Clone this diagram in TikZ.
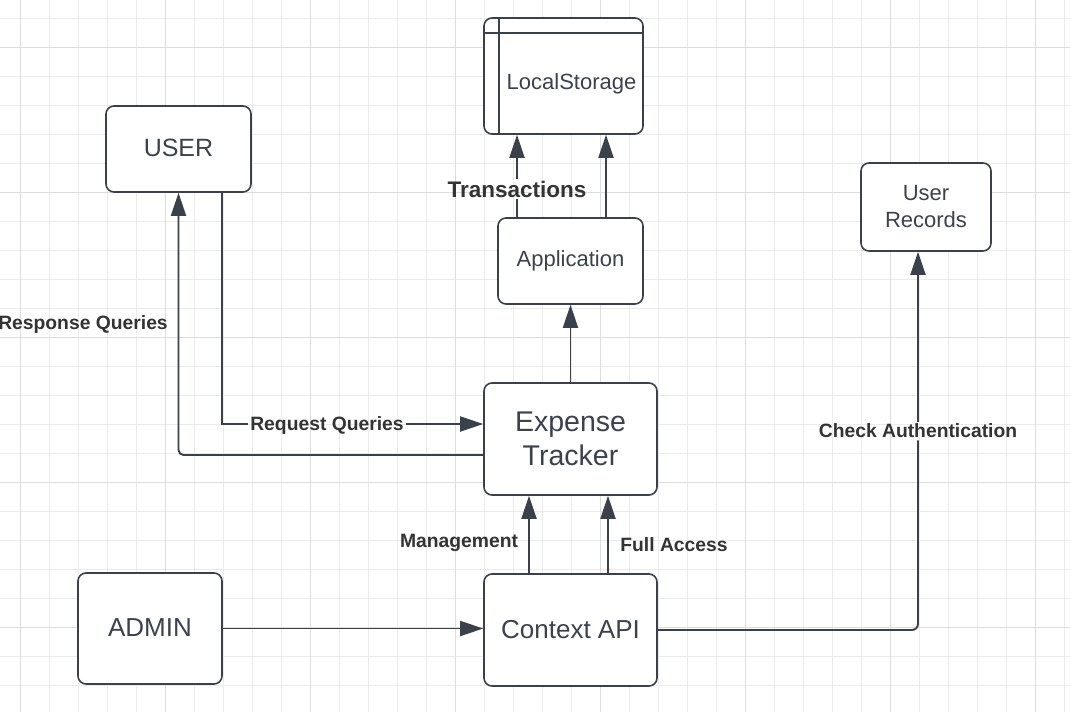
\documentclass[tikz,border=0pt]{standalone}
\usepackage{fontspec}
\setmainfont{Liberation Sans}
\usetikzlibrary{arrows.meta}
\definecolor{linec}{HTML}{3A414A}
\definecolor{textc}{HTML}{3B424D}
\definecolor{labc}{HTML}{333333}
\definecolor{gridminor}{HTML}{EBEBEB}
\definecolor{gridmajor}{HTML}{DDDDDD}
\tikzset{
  box/.style={draw=linec, line width=1.6pt, fill=white, rounded corners=8pt, text=textc, align=center, inner sep=0pt},
  conn/.style={draw=linec, line width=1.9pt},
  arr/.style={conn, -{Triangle[length=23pt,width=15pt]}},
  lab/.style={text=labc, font=\bfseries\fontsize{19.3}{23}\selectfont, inner sep=2pt},
}
\begin{document}
\begin{tikzpicture}[x=1pt,y=-1pt]
\useasboundingbox (0,0) rectangle (1070,712);
% grid
\foreach \i in {0,...,36} {
  \pgfmathsetmacro{\xx}{20.6+29*\i}
  \draw[gridminor, line width=1pt] (\xx,0) -- (\xx,712);
}
\foreach \i in {0,...,24} {
  \pgfmathsetmacro{\yy}{18.3+29*\i}
  \draw[gridminor, line width=1pt] (0,\yy) -- (1070,\yy);
}
\foreach \i in {0,...,7} {
  \pgfmathsetmacro{\xx}{20.6+145*\i}
  \draw[gridmajor, line width=1pt] (\xx,0) -- (\xx,712);
}
\foreach \i in {0,...,4} {
  \pgfmathsetmacro{\yy}{47.3+145*\i}
  \draw[gridmajor, line width=1pt] (0,\yy) -- (1070,\yy);
}

% nodes
\node[box, minimum width=159pt, minimum height=116pt] (LS) at (563.5,76) {};
\draw[linec, line width=1.6pt] ([xshift=16pt]LS.north west) -- ([xshift=16pt]LS.south west);
\draw[linec, line width=1.6pt] ([yshift=-16pt]LS.north west) -- ([yshift=-16pt]LS.north east);
\node[text=textc, font=\fontsize{22}{26}\selectfont, inner sep=0pt] (LSt) at (571.5,84) {LocalStorage};

\node[box, minimum width=145pt, minimum height=86pt, font=\fontsize{25}{30}\selectfont] (USER) at (178.5,149) {\raisebox{2pt}{USER}};
\node[box, minimum width=145pt, minimum height=86pt, font=\fontsize{22}{26}\selectfont] (APP) at (570.5,261) {Application};
\node[box, minimum width=130pt, minimum height=88pt, font=\fontsize{22}{27}\selectfont] (UR) at (926,207) {User\\Records};
\node[box, minimum width=173pt, minimum height=112pt, font=\fontsize{28.5}{34}\selectfont] (ET) at (570.5,439) {Expense\\Tracker};
\node[box, minimum width=144pt, minimum height=111pt, font=\fontsize{26}{30}\selectfont] (ADMIN) at (150,628.5) {\raisebox{1pt}{ADMIN}};
\node[box, minimum width=173pt, minimum height=112pt, font=\fontsize{26}{30}\selectfont] (CAPI) at (570.5,630) {Context API};

% labels
\node[lab, font=\bfseries\fontsize{22.5}{26}\selectfont] (ltrans) at (517,189) {Transactions};
\node[lab] (lreq) at (327,426) {Request Queries};
\node[lab] (lresp) at (83,325) {Response Queries};
\node[lab] (lman) at (459,543) {Management};
\node[lab] (lfull) at (674,545) {Full Access};
\node[lab] (lauth) at (918,431) {Check Authentication};

% connectors
\draw[conn] (ltrans.south) -- (ltrans.south |- APP.north);
\draw[arr] (ltrans.north) -- (ltrans.north |- LS.south);
\draw[arr] ([xshift=35.5pt]APP.north) -- ([xshift=35.5pt]APP.north |- LS.south);
\draw[arr] (ET.north) -- (APP.south);
\draw[conn] ([xshift=43.5pt]USER.south) |- ([yshift=2pt]lreq.west);
\draw[arr] ([yshift=2pt]lreq.east) -- ([yshift=2pt]lreq.east -| ET.west);
\draw[arr, rounded corners=5pt] ([yshift=-16pt]ET.west) -| (USER.south);
\draw[arr] (ADMIN.east) -- (ADMIN.east -| CAPI.west);
\draw[arr] ([xshift=-41.5pt]CAPI.north) -- ([xshift=-41.5pt]CAPI.north |- ET.south);
\draw[arr] ([xshift=37.5pt]CAPI.north) -- ([xshift=37.5pt]CAPI.north |- ET.south);
\draw[conn, rounded corners=6pt] (CAPI.east) -| (lauth.south);
\draw[arr] (lauth.north) -- (lauth.north |- UR.south);
\end{tikzpicture}
\end{document}
